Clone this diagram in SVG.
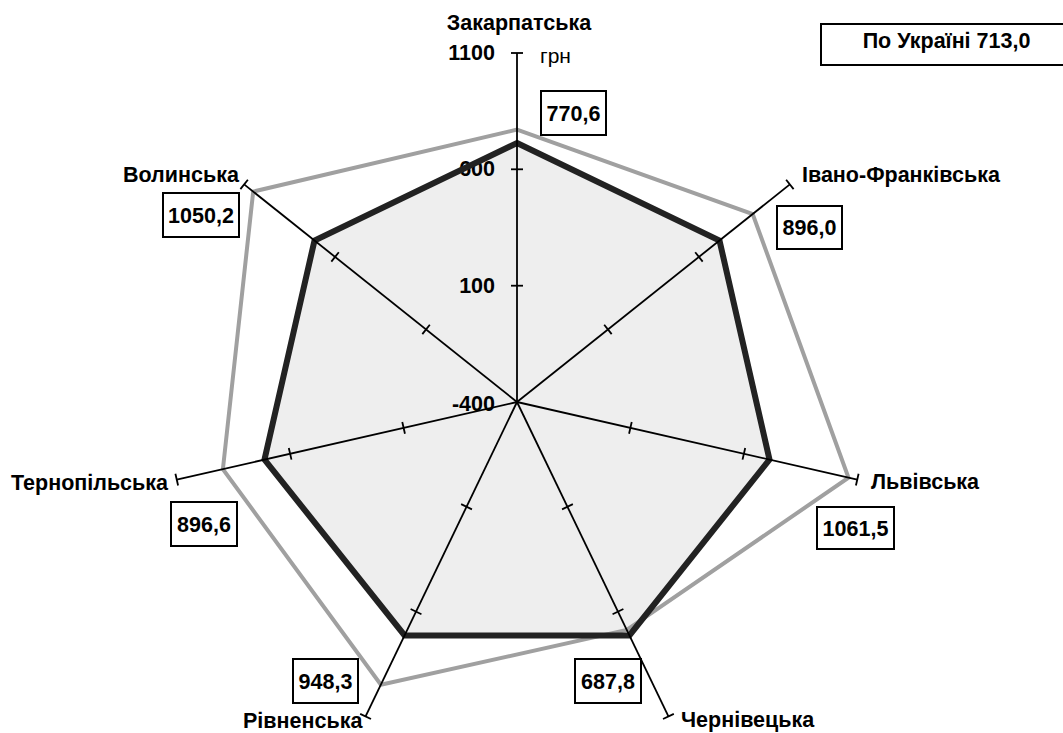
<svg xmlns="http://www.w3.org/2000/svg" width="1063" height="733" viewBox="0 0 1063 733">
<style>
text{font-family:"Liberation Sans",Arial,sans-serif;font-weight:bold;font-size:21.5px;fill:#000}
.unit{font-weight:normal;font-size:21px}
.mid{text-anchor:middle}
.end{text-anchor:end}
.box{fill:#fff;stroke:#000;stroke-width:2}
.axis{stroke:#000;stroke-width:1.8;fill:none}
.avg{fill:none;stroke:#222;stroke-width:6;stroke-linejoin:miter}
.region{fill:none;stroke:#a0a0a0;stroke-width:4;stroke-linejoin:miter}
</style>
<defs>
<g id="axis">
<line x1="517" y1="402" x2="517" y2="53"/>
<line x1="511" y1="285.7" x2="523" y2="285.7"/>
<line x1="511" y1="169.3" x2="523" y2="169.3"/>
<line x1="511" y1="53" x2="523" y2="53"/>
</g>
</defs>
<rect width="1063" height="733" fill="#fff"/>
<g id="avg-fill">
<polygon points="517,143 719.5,240.5 769.5,459.6 629.4,635.4 404.6,635.4 264.5,459.6 314.5,240.5" fill="#eeeeee" stroke="none"/>
</g>
<g id="region-series">
<polygon class="region" points="517,129.6 752.7,214 848.5,477.7 626.8,630 380.9,684.7 222.9,469.1 253.2,191.6"/>
</g>
<g id="scale-labels">
<text class="end" x="495" y="60">1100</text>
<text class="end" x="495" y="176">600</text>
<text class="end" x="495" y="293">100</text>
<text class="end" x="495" y="411">-400</text>
<text class="unit" x="540" y="63">грн</text>
</g>
<g id="avg-series">
<polygon class="avg" points="517,143 719.5,240.5 769.5,459.6 629.4,635.4 404.6,635.4 264.5,459.6 314.5,240.5"/>
</g>
<g id="connectors" class="axis">
<use href="#axis"/>
<use href="#axis" transform="rotate(51.4286 517 402)"/>
<use href="#axis" transform="rotate(102.857 517 402)"/>
<use href="#axis" transform="rotate(154.286 517 402)"/>
<use href="#axis" transform="rotate(205.714 517 402)"/>
<use href="#axis" transform="rotate(257.143 517 402)"/>
<use href="#axis" transform="rotate(308.571 517 402)"/>
</g>
<g id="node-zakarpatska">
<text class="mid" x="519" y="30">Закарпатська</text>
<rect class="box" x="541" y="91" width="65" height="44"/>
<text class="mid" x="573.5" y="120.5">770,6</text>
</g>
<g id="node-ivano-frankivska">
<text x="802" y="182">Івано-Франківська</text>
<rect class="box" x="777" y="206" width="65" height="43"/>
<text class="mid" x="809.5" y="235">896,0</text>
</g>
<g id="node-lvivska">
<text x="871" y="489">Львівська</text>
<rect class="box" x="817" y="507" width="77" height="42"/>
<text class="mid" x="855.5" y="535.5">1061,5</text>
</g>
<g id="node-chernivetska">
<text x="681" y="727">Чернівецька</text>
<rect class="box" x="575" y="659" width="66" height="44"/>
<text class="mid" x="608" y="688.5">687,8</text>
</g>
<g id="node-rivnenska">
<text x="243" y="728">Рівненська</text>
<rect class="box" x="293" y="659" width="65" height="44"/>
<text class="mid" x="325.5" y="688.5">948,3</text>
</g>
<g id="node-ternopilska">
<text x="11" y="490">Тернопільська</text>
<rect class="box" x="171" y="502" width="66" height="44"/>
<text class="mid" x="204" y="531.5">896,6</text>
</g>
<g id="node-volynska">
<text x="123" y="182">Волинська</text>
<rect class="box" x="163" y="193" width="76" height="44"/>
<text class="mid" x="201" y="222.5">1050,2</text>
</g>
<g id="legend">
<rect class="box" x="821" y="24" width="250" height="41"/>
<text class="mid" x="946.5" y="47.5">По Україні 713,0</text>
</g>
</svg>
